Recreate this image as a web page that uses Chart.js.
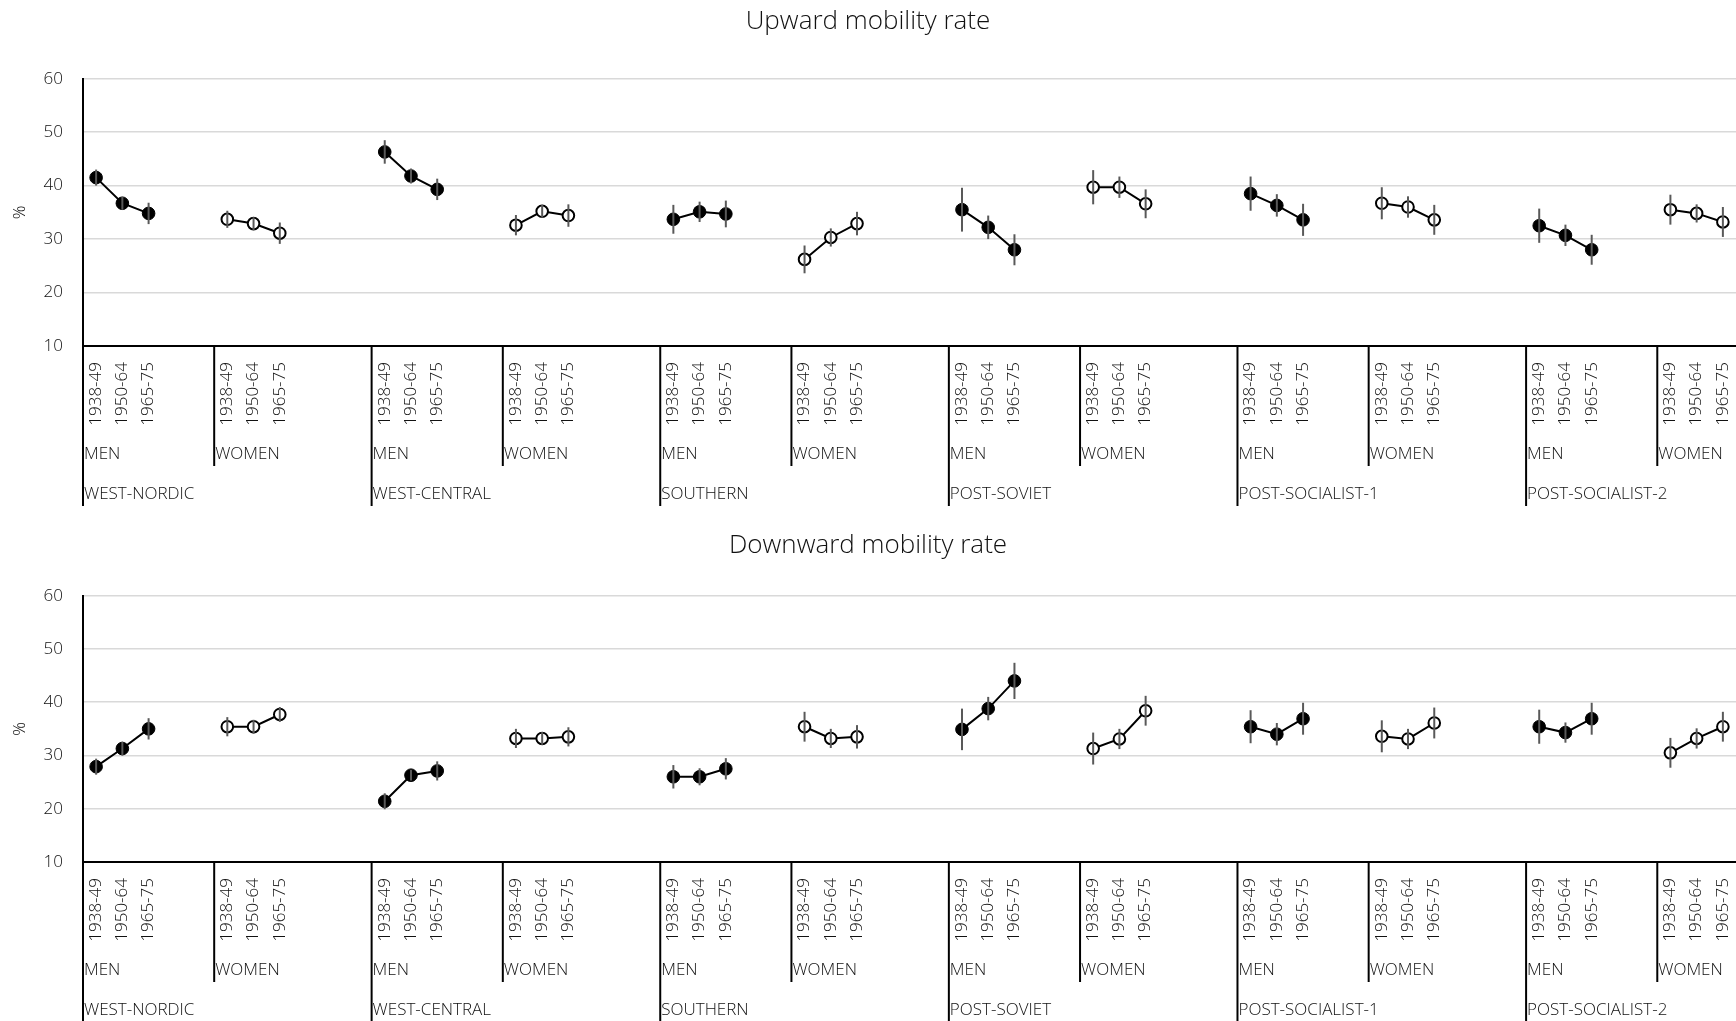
<!DOCTYPE html>
<html>
<head>
<meta charset="utf-8">
<script src="https://cdn.jsdelivr.net/npm/chart.js@4.4.1/dist/chart.umd.min.js"></script>
<style>
  html, body { margin: 0; padding: 0; background: #ffffff; }
  #wrap { position: relative; width: 1736px; height: 1021px; overflow: hidden; }
  canvas { position: absolute; left: 0; }
  #upCanvas { top: 0; }
  #downCanvas { top: 516px; }
</style>
</head>
<body>
<div id="wrap">
  <canvas id="upCanvas" width="1736" height="516"></canvas>
  <canvas id="downCanvas" width="1736" height="505"></canvas>
</div>
<script>
// ---- categories ----
const regions = ['WEST-NORDIC', 'WEST-CENTRAL', 'SOUTHERN', 'POST-SOVIET', 'POST-SOCIALIST-1', 'POST-SOCIALIST-2'];
const sexes = ['MEN', 'WOMEN'];
const cohorts = ['1938-49', '1950-64', '1965-75'];
const yTicks = [10, 20, 30, 40, 50, 60];

// ---- upward mobility rate (%), 3 cohorts per region, with 95% CI half-widths ----
const upMen       = [41.5, 36.7, 34.8,  46.3, 41.8, 39.3,  33.7, 35.1, 34.7,  35.5, 32.2, 28.0,  38.5, 36.3, 33.6,  32.5, 30.7, 28.0];
const upMenErr    = [ 1.5,  1.2,  2.0,   2.2,  1.4,  2.0,   2.7,  1.9,  2.5,   4.1,  2.2,  2.9,   3.2,  2.1,  3.0,   3.2,  2.0,  2.8];
const upWomen     = [33.7, 32.9, 31.1,  32.6, 35.2, 34.4,  26.2, 30.3, 32.9,  39.7, 39.7, 36.6,  36.7, 36.0, 33.6,  35.5, 34.8, 33.2];
const upWomenErr  = [ 1.6,  1.2,  2.0,   1.9,  1.2,  2.1,   2.6,  1.7,  2.2,   3.2,  2.0,  2.7,   3.0,  2.0,  2.8,   2.8,  1.7,  2.8];

// ---- downward mobility rate (%) ----
const downMen      = [27.9, 31.3, 35.0,  21.4, 26.3, 27.1,  26.0, 26.0, 27.5,  34.9, 38.8, 44.0,  35.4, 34.0, 36.9,  35.4, 34.3, 36.9];
const downMenErr   = [ 1.5,  1.3,  2.0,   1.5,  1.0,  1.8,   2.2,  1.6,  2.0,   3.9,  2.2,  3.4,   3.1,  2.1,  3.0,   3.2,  1.9,  3.0];
const downWomen    = [35.4, 35.4, 37.7,  33.2, 33.2, 33.5,  35.4, 33.2, 33.5,  31.3, 33.1, 38.4,  33.6, 33.1, 36.1,  30.5, 33.2, 35.4];
const downWomenErr = [ 1.8,  1.3,  1.4,   1.8,  1.2,  1.8,   2.8,  1.8,  2.2,   3.0,  1.9,  2.8,   3.0,  1.9,  2.9,   2.8,  1.9,  2.8];

// ---- slot layout on the category axis: men block (3 + 2 empty), women block (3 + 3 empty) ----
const SLOTS_PER_REGION = 11;
const WOMEN_OFFSET = 5;
const SLOT_COUNT = (regions.length - 1) * SLOTS_PER_REGION + WOMEN_OFFSET + cohorts.length;

function slotIndex(r, s, c) { return r * SLOTS_PER_REGION + s * WOMEN_OFFSET + c; }

const slotLabels = new Array(SLOT_COUNT).fill('');
regions.forEach((_, r) => sexes.forEach((_, s) => cohorts.forEach((c, k) => {
  const i = slotIndex(r, s, k);
  if (i < SLOT_COUNT) slotLabels[i] = c;
})));

function spread(values, s) {
  const out = new Array(SLOT_COUNT).fill(null);
  regions.forEach((_, r) => cohorts.forEach((_, k) => {
    const i = slotIndex(r, s, k);
    if (i < SLOT_COUNT) out[i] = values[r * cohorts.length + k];
  }));
  return out;
}

// ---- styling ----
const FONT = "'Open Sans', 'Noto Sans', sans-serif";
const WEIGHT = 300;
const TEXT = '#111111';
Chart.defaults.font.family = FONT;
Chart.defaults.font.weight = WEIGHT;
Chart.defaults.color = TEXT;

// vertical CI whiskers, drawn over the markers
const errorBars = {
  id: 'errorBars',
  afterDatasetsDraw(chart) {
    const ctx = chart.ctx;
    const y = chart.scales.y;
    ctx.save();
    ctx.strokeStyle = '#595959';
    ctx.lineWidth = 2;
    chart.data.datasets.forEach((ds, di) => {
      const meta = chart.getDatasetMeta(di);
      ds.data.forEach((v, j) => {
        if (v == null) return;
        const e = ds.errors[j];
        const px = meta.data[j].x;
        ctx.beginPath();
        ctx.moveTo(px, y.getPixelForValue(v - e));
        ctx.lineTo(px, y.getPixelForValue(v + e));
        ctx.stroke();
      });
    });
    ctx.restore();
  }
};

// sex and region levels of the category axis, with their separators
const groupAxis = {
  id: 'groupAxis',
  afterDraw(chart) {
    const ctx = chart.ctx;
    const x = chart.scales.x;
    const half = (x.getPixelForValue(1) - x.getPixelForValue(0)) / 2;
    const top = x.top;
    const line = (px, y0, y1) => { ctx.beginPath(); ctx.moveTo(px, y0); ctx.lineTo(px, y1); ctx.stroke(); };
    ctx.save();
    ctx.strokeStyle = '#000000';
    ctx.lineWidth = 2;
    ctx.fillStyle = TEXT;
    ctx.font = WEIGHT + ' 17px ' + FONT;
    ctx.textAlign = 'left';
    ctx.textBaseline = 'middle';
    regions.forEach((name, r) => {
      const rx = x.getPixelForValue(slotIndex(r, 0, 0)) - half;
      line(rx, top, top + 160);
      ctx.fillText(name, rx + 1, top + 148);
      sexes.forEach((s, k) => {
        const sx = x.getPixelForValue(slotIndex(r, k, 0)) - half;
        if (k > 0) line(sx, top, top + 120);
        ctx.fillText(s, sx + 1, top + 108);
      });
    });
    ctx.restore();
  }
};

function makeChart(canvasId, title, titlePad, men, menErr, women, womenErr) {
  const axisHeight = document.getElementById(canvasId).height - 346;
  return new Chart(document.getElementById(canvasId), {
    type: 'line',
    data: {
      labels: slotLabels,
      datasets: [
        {
          label: 'Men',
          data: spread(men, 0),
          errors: spread(menErr, 0),
          borderColor: '#000000',
          borderWidth: 2,
          pointBackgroundColor: '#000000',
          pointBorderColor: '#000000',
          pointBorderWidth: 1,
          pointRadius: 6.3,
          tension: 0,
          spanGaps: false
        },
        {
          label: 'Women',
          data: spread(women, 1),
          errors: spread(womenErr, 1),
          borderColor: '#000000',
          borderWidth: 2,
          pointBackgroundColor: '#ffffff',
          pointBorderColor: '#000000',
          pointBorderWidth: 2,
          pointRadius: 5.8,
          tension: 0,
          spanGaps: false
        }
      ]
    },
    options: {
      responsive: false,
      animation: false,
      devicePixelRatio: 1,
      layout: { padding: 0, autoPadding: false },
      plugins: {
        legend: { display: false },
        tooltip: { enabled: false },
        title: {
          display: true,
          text: title,
          color: TEXT,
          font: { size: 26, weight: WEIGHT, family: FONT },
          padding: titlePad
        }
      },
      scales: {
        x: {
          type: 'category',
          offset: true,
          grid: { display: false, drawTicks: false },
          border: { display: true, color: '#000000', width: 2 },
          ticks: {
            autoSkip: false,
            minRotation: 90,
            maxRotation: 90,
            padding: 16,
            color: TEXT,
            font: { size: 17 }
          },
          afterFit(scale) {
            scale.height = axisHeight;
            scale.paddingLeft = 0;
            scale.paddingRight = 0;
          }
        },
        y: {
          min: yTicks[0],
          max: yTicks[yTicks.length - 1],
          afterBuildTicks(scale) { scale.ticks = yTicks.map(v => ({ value: v })); },
          grid: { color: '#d9d9d9', lineWidth: 1.5, drawTicks: false },
          border: { display: true, color: '#000000', width: 2 },
          ticks: { padding: 20, color: TEXT, font: { size: 17 } },
          title: { display: true, text: '%', color: TEXT, font: { size: 17 }, padding: { top: 10, bottom: 0 } },
          afterFit(scale) { scale.width = 83; }
        }
      }
    },
    plugins: [errorBars, groupAxis]
  });
}

makeChart('upCanvas', 'Upward mobility rate', { top: 6.4, bottom: 41.1 }, upMen, upMenErr, upWomen, upWomenErr);
makeChart('downCanvas', 'Downward mobility rate', { top: 14.4, bottom: 34.1 }, downMen, downMenErr, downWomen, downWomenErr);
</script>
</body>
</html>
